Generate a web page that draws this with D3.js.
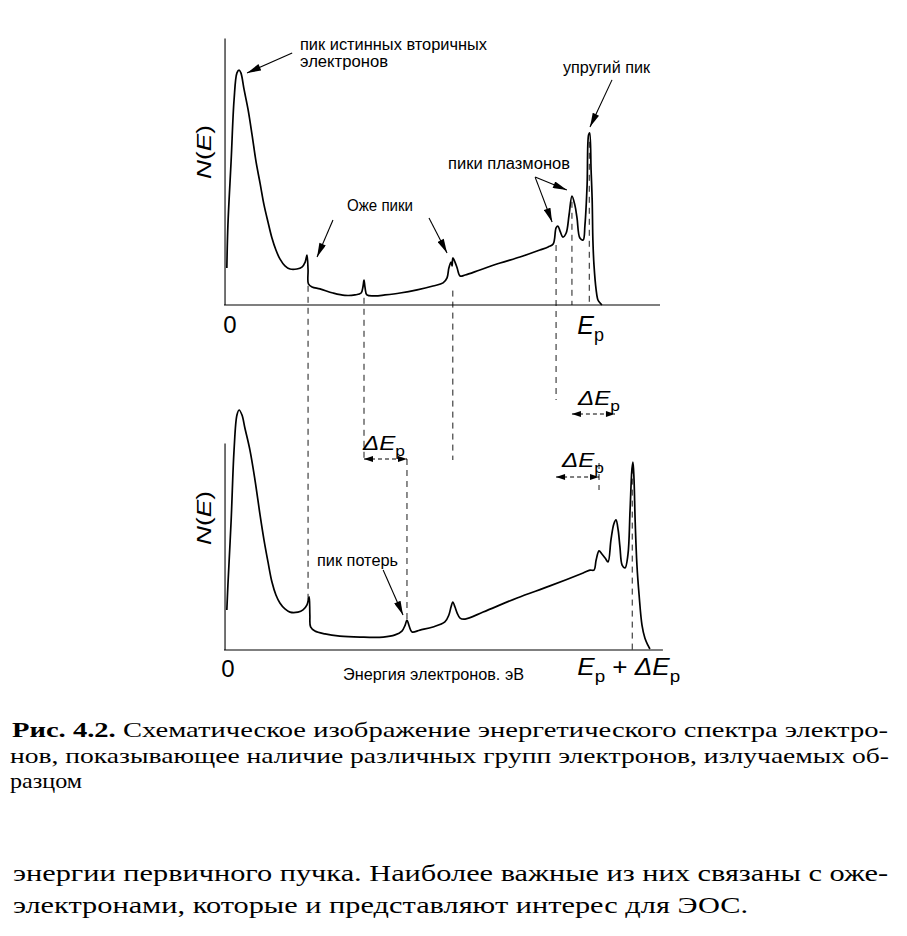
<!DOCTYPE html>
<html>
<head>
<meta charset="utf-8">
<script src="https://cdn.jsdelivr.net/npm/d3@7"></script>
<style>
  body { margin: 0; background: #fff; }
</style>
</head>
<body>
<div id="container"></div>
<script>
// Schematic electron energy spectrum (Fig. 4.2), two panels

const width = 907;
const height = 936;

// spectrum with the primary beam at Ep: [energy (Ep = 100), N(E)]
const topSpectrum = [
  [-0.6, 15.4], [-0.3, 33.3], [0.6, 60.4], [1.4, 85.4], [2.2, 96.7], [2.8, 97.9],
  [3.3, 96.7], [4.2, 89.6], [5.3, 81.3], [6.4, 70.8], [7.5, 59.6], [8.6, 50.8],
  [9.7, 41.7], [10.8, 34.6], [11.9, 27.9], [13.0, 22.9], [14.1, 19.2], [15.5, 16.3],
  [16.9, 15.0], [18.8, 15.0], [20.2, 15.8], [21.1, 17.9], [21.6, 20.8], [21.9, 14.6],
  [22.0, 8.8], [23.0, 7.5], [25.2, 6.7], [28.8, 5.0], [32.1, 4.0], [34.9, 4.2],
  [36.6, 5.0], [37.1, 7.5], [37.4, 10.4], [37.7, 7.1], [38.2, 4.2], [40.4, 3.8],
  [43.2, 4.2], [47.4, 5.0], [52.1, 6.3], [56.5, 7.9], [59.3, 9.2], [60.4, 11.3],
  [60.9, 15.4], [61.5, 17.9], [61.8, 16.3], [62.0, 19.6], [62.6, 17.9], [63.2, 15.4],
  [64.0, 12.1], [65.4, 12.5], [69.5, 14.6], [75.1, 17.5], [80.6, 20.0], [86.1, 22.9],
  [88.4, 24.2], [89.8, 25.4], [90.6, 32.1], [91.1, 32.9], [91.7, 30.8], [92.5, 28.3],
  [93.4, 30.0], [94.2, 37.5], [95.0, 45.4], [95.8, 41.7], [96.4, 36.3], [97.2, 27.9],
  [98.1, 27.1], [98.6, 33.3], [99.2, 50.0], [99.6, 70.8], [99.9, 71.7], [100.3, 56.3],
  [100.6, 43.8], [100.8, 27.1], [101.1, 16.7], [101.7, 6.3], [102.2, 2.1], [102.8, 0.8],
  [103.3, 0]
];

// spectrum with the primary beam at Ep + dEp
const bottomSpectrum = [
  [-0.6, 16.7], [-0.3, 27.1], [0.6, 54.2], [1.4, 83.3], [2.2, 97.9], [2.8, 100],
  [3.6, 97.9], [4.4, 92.5], [5.8, 83.3], [7.2, 70.8], [8.6, 56.3], [9.7, 45.8],
  [10.8, 36.7], [11.9, 28.3], [13.0, 22.9], [14.1, 19.6], [15.5, 17.1], [16.9, 15.8],
  [19.1, 15.8], [20.5, 16.7], [21.6, 18.8], [22.2, 22.1], [22.4, 14.6], [22.6, 9.6],
  [23.8, 7.9], [26.6, 6.7], [30.7, 5.8], [36.3, 5.4], [42.7, 5.4], [46.0, 6.3],
  [47.9, 7.9], [48.8, 10.4], [49.3, 12.5], [49.9, 10.0], [50.7, 7.5], [52.9, 8.3],
  [56.5, 9.6], [59.8, 11.7], [60.9, 14.6], [61.5, 17.9], [62.0, 20.0], [62.6, 17.9],
  [63.2, 15.4], [64.0, 13.3], [65.4, 12.9], [70.4, 15.8], [79.8, 21.7], [88.9, 26.7],
  [98.1, 32.1], [100.0, 33.3], [101.1, 33.3], [101.7, 37.5], [102.5, 41.3], [103.3, 40.0],
  [104.2, 38.3], [105.0, 36.7], [105.8, 45.8], [106.6, 52.5], [107.2, 54.2], [107.8, 50.0],
  [108.3, 42.9], [108.9, 35.4], [109.7, 34.2], [110.5, 39.6], [111.1, 58.3], [111.6, 75.0],
  [111.9, 78.3], [112.2, 70.8], [112.5, 54.2], [113.0, 35.4], [113.6, 22.9], [114.4, 10.4],
  [115.2, 5.0], [116.0, 2.1], [116.6, 0.4]
];

const augerE = [21.6, 37.4, 62.0];
const plasmonE = [90.6, 95.0];
const elasticE = 99.8;
const deltaEp = 11.9;
const lossE = augerE[1] + deltaEp;

const captionLines = [
  "Схематическое изображение энергетического спектра электро-",
  "нов, показывающее наличие различных групп электронов, излучаемых об-",
  "разцом"
];
const textLines = [
  "энергии первичного пучка. Наиболее важные из них связаны с оже-",
  "электронами, которые и представляют интерес для ЭОС."
];

const sans = "'Liberation Sans Narrow', 'Arial Narrow', 'Liberation Sans', sans-serif";
const serif = "'Liberation Serif', 'DejaVu Serif', serif";

const svg = d3.select("#container")
  .append("svg")
  .attr("width", width)
  .attr("height", height)
  .style("background-color", "white");

const x = d3.scaleLinear().domain([0, 100]).range([229, 590]);
const yTop = d3.scaleLinear().domain([0, 100]).range([305, 65]);
const yBot = d3.scaleLinear().domain([0, 100]).range([650, 410]);

const defs = svg.append("defs");
defs.append("marker")
  .attr("id", "head")
  .attr("viewBox", "0 0 16 8")
  .attr("refX", 16).attr("refY", 4)
  .attr("markerWidth", 15).attr("markerHeight", 7)
  .attr("markerUnits", "userSpaceOnUse")
  .attr("orient", "auto")
  .append("path").attr("d", "M0,0 L16,4 L0,8 z").attr("fill", "black");
defs.append("marker")
  .attr("id", "small")
  .attr("viewBox", "0 0 12 8")
  .attr("refX", 12).attr("refY", 4)
  .attr("markerWidth", 11).attr("markerHeight", 6)
  .attr("markerUnits", "userSpaceOnUse")
  .attr("orient", "auto-start-reverse")
  .append("path").attr("d", "M0,0 L12,4 L0,8 z").attr("fill", "black");

// axes: vertical line and baseline for each panel
function drawAxes(y, nMax, eMax) {
  svg.append("line")
    .attr("x1", x(-1.1)).attr("x2", x(-1.1))
    .attr("y1", y(0)).attr("y2", y(nMax))
    .attr("stroke", "black").attr("stroke-width", 1.1);
  svg.append("line")
    .attr("x1", x(-1.4)).attr("x2", x(eMax))
    .attr("y1", y(0)).attr("y2", y(0))
    .attr("stroke", "black").attr("stroke-width", 1.1);
}
drawAxes(yTop, 111, 119.4);
drawAxes(yBot, 86, 120.2);

// dashed guides linking the features of both panels
const guides = [
  { e: augerE[0] + 0.3, y1: yTop(8), y2: yBot(21) },
  { e: augerE[1], y1: yTop(3), y2: 460 },
  { e: augerE[2], y1: yTop(6), y2: 460 },
  { e: plasmonE[0], y1: yTop(25), y2: 400 },
  { e: plasmonE[1], y1: yTop(43), y2: yTop(0) },
  { e: elasticE, y1: yTop(68), y2: yTop(0) },
  { e: lossE, y1: 459, y2: yBot(12) },
  { e: plasmonE[0] + deltaEp, y1: 463, y2: 490 },
  { e: elasticE + deltaEp, y1: yBot(76), y2: yBot(0) }
];
svg.append("g")
  .selectAll("line")
  .data(guides)
  .join("line")
  .attr("x1", d => x(d.e)).attr("x2", d => x(d.e))
  .attr("y1", d => d.y1).attr("y2", d => d.y2)
  .attr("stroke", "black")
  .attr("stroke-width", 0.9)
  .attr("stroke-dasharray", "6,5");

const line = d3.line().curve(d3.curveCatmullRom.alpha(0.5));

svg.append("path")
  .datum(topSpectrum)
  .attr("d", line.x(d => x(d[0])).y(d => yTop(d[1])))
  .attr("fill", "none").attr("stroke", "black")
  .attr("stroke-width", 1.7).attr("stroke-linejoin", "round");

svg.append("path")
  .datum(bottomSpectrum)
  .attr("d", line.x(d => x(d[0])).y(d => yBot(d[1])))
  .attr("fill", "none").attr("stroke", "black")
  .attr("stroke-width", 1.7).attr("stroke-linejoin", "round");

// text helpers
function label(txt, px, py, size, len, anchor) {
  const t = svg.append("text")
    .attr("x", px).attr("y", py)
    .attr("font-family", sans)
    .attr("font-size", size)
    .attr("text-anchor", anchor || "start")
    .text(txt);
  if (len) t.attr("textLength", len).attr("lengthAdjust", "spacingAndGlyphs");
  return t;
}

function mathLabel(parts, px, py, size) {
  const t = svg.append("text")
    .attr("x", px).attr("y", py)
    .attr("font-family", sans)
    .attr("font-size", size);
  let shifted = 0;
  parts.forEach(p => {
    const s = t.append("tspan").text(p.t);
    if (p.i) s.attr("font-style", "italic");
    if (p.sub) {
      s.attr("font-size", size * 0.72).attr("dy", size * 0.28);
      shifted = size * 0.28;
    } else if (shifted) {
      s.attr("dy", -shifted);
      shifted = 0;
    }
  });
  return t;
}

// y labels
[[yTop, 152], [yBot, 518]].forEach(([y, cy]) => {
  const t = svg.append("text")
    .attr("transform", `translate(211,${cy}) rotate(-90)`)
    .attr("text-anchor", "middle")
    .attr("font-family", sans)
    .attr("font-size", 20)
    .attr("textLength", 54)
    .attr("lengthAdjust", "spacingAndGlyphs");
  t.append("tspan").attr("font-style", "italic").text("N");
  t.append("tspan").text("(");
  t.append("tspan").attr("font-style", "italic").text("E");
  t.append("tspan").text(")");
});

label("0", x(0) + 1, yTop(0) + 28, 24, null, "middle");
label("0", x(0) - 1, yBot(0) + 27, 24, null, "middle");

mathLabel([{ t: "E", i: true }, { t: "p", sub: true }], x(elasticE) - 12, yTop(0) + 29, 25);
mathLabel([{ t: "E", i: true }, { t: "p", sub: true }, { t: " + " }, { t: "Δ", i: true },
  { t: "E", i: true }, { t: "p", sub: true }], x(elasticE + deltaEp) - 55, yBot(0) + 25, 24)
  .attr("textLength", 103).attr("lengthAdjust", "spacingAndGlyphs");

label("Энергия электронов. эВ", 343, 680, 16, 181);

// dEp arrows between the panels
const shifts = [
  { from: augerE[1], y: 459, tx: 363, ty: 450 },
  { from: plasmonE[1], y: 414, tx: 578, ty: 405 },
  { from: plasmonE[0], y: 477, tx: 562, ty: 467 }
];
shifts.forEach(s => {
  svg.append("line")
    .attr("x1", x(s.from)).attr("x2", x(s.from + deltaEp))
    .attr("y1", s.y).attr("y2", s.y)
    .attr("stroke", "black").attr("stroke-width", 1)
    .attr("stroke-dasharray", "4,3")
    .attr("marker-start", "url(#small)")
    .attr("marker-end", "url(#small)");
  mathLabel([{ t: "Δ", i: true }, { t: "E", i: true }, { t: "p", sub: true }], s.tx, s.ty, 21)
    .attr("textLength", 42).attr("lengthAdjust", "spacingAndGlyphs");
});

// annotations with arrows, anchored in data space of each panel
const notes = [
  { lines: ["пик истинных вторичных", "электронов"], tx: 300, ty: 50, lens: [187, 88],
    arrows: [[[17.5, 105], [5.0, 96.7]]], y: yTop },
  { lines: ["Оже пики"], tx: 347, ty: 211, lens: [66],
    arrows: [[[28.8, 35.4], [24.4, 20]], [[55.4, 36.3], [60.4, 21.7]]], y: yTop },
  { lines: ["пики плазмонов"], tx: 448, ty: 169, lens: [122],
    arrows: [[[84.8, 53.3], [89.5, 34.6]], [[84.8, 53.3], [93.6, 47.9]]], y: yTop },
  { lines: ["упругий пик"], tx: 563, ty: 73, lens: [87],
    arrows: [[[106.1, 93.8], [100.0, 74.2]]], y: yTop },
  { lines: ["пик потерь"], tx: 317, ty: 566, lens: [81],
    arrows: [[[42.7, 33.3], [48.2, 14.6]]], y: yBot }
];
notes.forEach(n => {
  n.lines.forEach((t, i) => label(t, n.tx, n.ty + i * 17, 16, n.lens[i]));
  n.arrows.forEach(([a, b]) => {
    svg.append("line")
      .attr("x1", x(a[0])).attr("y1", n.y(a[1]))
      .attr("x2", x(b[0])).attr("y2", n.y(b[1]))
      .attr("stroke", "black").attr("stroke-width", 1.1)
      .attr("marker-end", "url(#head)");
  });
});

// caption, justified to the column like the printed page
const cap = svg.append("g").attr("font-family", serif).attr("fill", "black");
const fit = "spacingAndGlyphs";
const c1 = cap.append("text").attr("x", 12).attr("y", 737).attr("font-size", 22)
  .attr("textLength", 876).attr("lengthAdjust", fit);
c1.append("tspan").attr("font-weight", "bold").text("Рис. 4.2. ");
c1.append("tspan").text(captionLines[0]);
cap.append("text").attr("x", 10).attr("y", 763).attr("font-size", 22)
  .attr("textLength", 879).attr("lengthAdjust", fit).text(captionLines[1]);
cap.append("text").attr("x", 10).attr("y", 788).attr("font-size", 22)
  .attr("textLength", 72).attr("lengthAdjust", fit).text(captionLines[2]);

cap.append("text").attr("x", 13).attr("y", 881).attr("font-size", 23)
  .attr("textLength", 875).attr("lengthAdjust", fit).text(textLines[0]);
cap.append("text").attr("x", 13).attr("y", 913).attr("font-size", 23)
  .attr("textLength", 735).attr("lengthAdjust", fit).text(textLines[1]);
</script>
</body>
</html>
